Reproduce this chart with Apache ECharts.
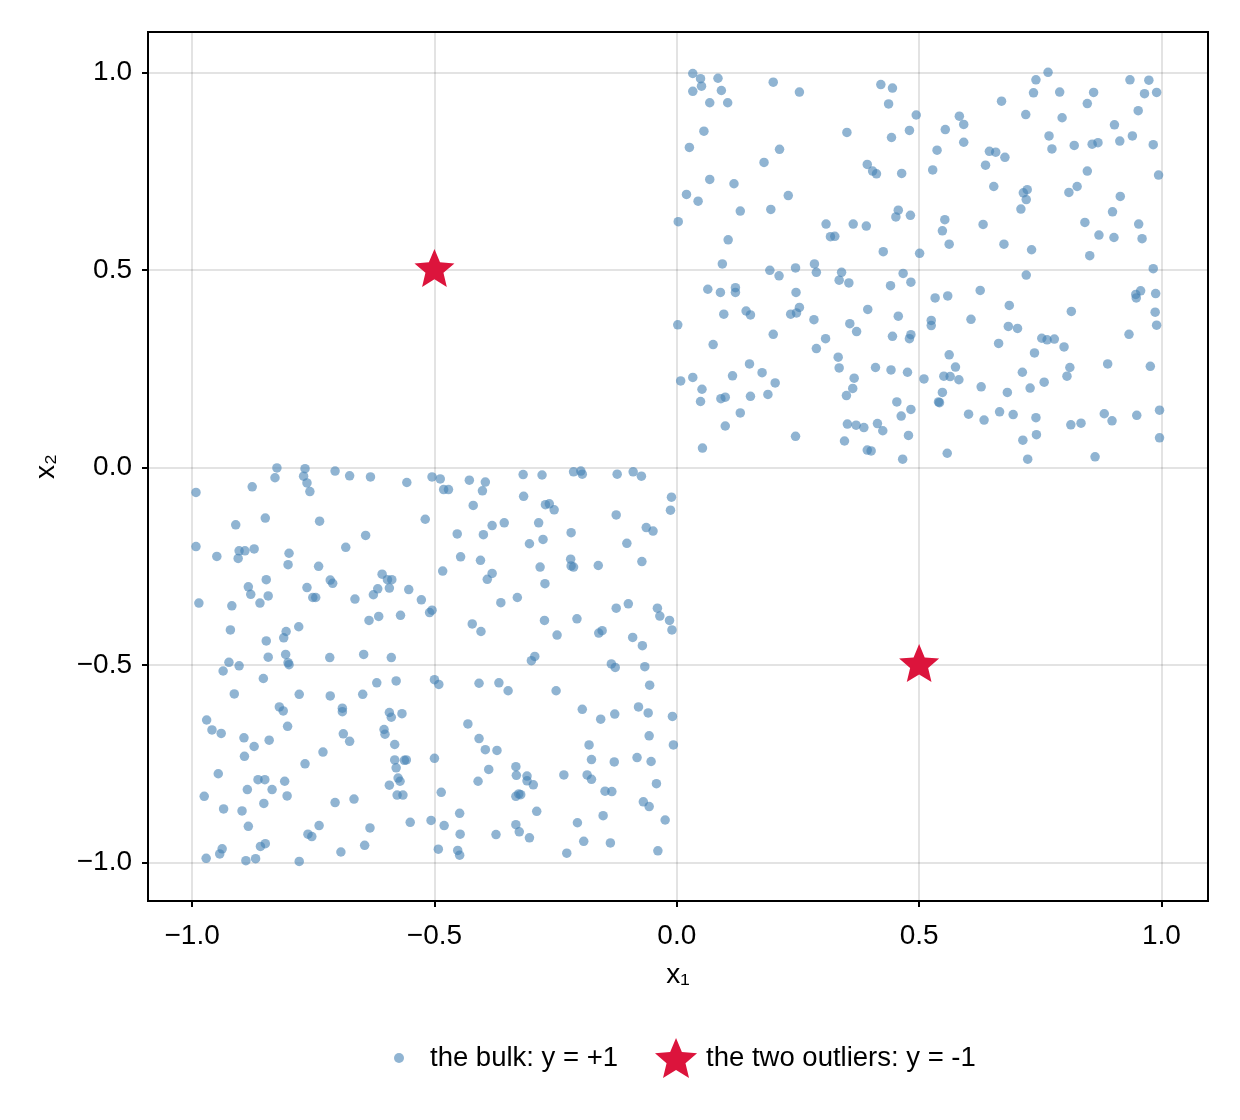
<!DOCTYPE html>
<html>
<head>
<meta charset="utf-8">
<title>bulk and outliers</title>
<script src="https://cdn.jsdelivr.net/npm/echarts@6/dist/echarts.min.js"></script>
<style>
  html, body { margin: 0; padding: 0; background: #fff; }
  #chart { width: 1240px; height: 1120px; }
</style>
</head>
<body>
<div id="chart"></div>
<script>
// points: [x1, x2]
var bulkTopRight = [
  [0.033,0.997],[0.049,0.984],[0.085,0.985],[0.051,0.965],[0.033,0.952],[0.092,0.954],[0.199,0.975],[0.253,0.950],[0.068,0.923],[0.105,0.923],
  [0.421,0.969],[0.445,0.960],[0.437,0.920],[0.494,0.892],[0.056,0.851],[0.351,0.848],[0.480,0.853],[0.443,0.835],[0.026,0.810],[0.212,0.805],
  [0.180,0.772],[0.393,0.767],[0.404,0.750],[0.412,0.743],[0.464,0.744],[0.068,0.729],[0.118,0.718],[0.020,0.691],[0.044,0.674],[0.230,0.688],
  [0.131,0.649],[0.194,0.653],[0.457,0.651],[0.452,0.634],[0.482,0.638],[0.003,0.622],[0.308,0.616],[0.364,0.616],[0.391,0.611],[0.317,0.584],
  [0.326,0.585],[0.106,0.576],[0.426,0.546],[0.501,0.542],[0.094,0.515],[0.284,0.515],[0.192,0.499],[0.245,0.505],[0.340,0.494],[0.467,0.491],
  [0.766,1.000],[0.741,0.981],[0.935,0.981],[0.974,0.980],[0.736,0.948],[0.790,0.950],[0.860,0.949],[0.965,0.946],[0.990,0.949],[0.670,0.927],
  [0.847,0.921],[0.952,0.903],[0.583,0.889],[0.720,0.893],[0.795,0.885],[0.592,0.868],[0.554,0.855],[0.903,0.867],[0.768,0.839],[0.940,0.839],
  [0.592,0.823],[0.914,0.826],[0.820,0.815],[0.857,0.818],[0.869,0.822],[0.983,0.817],[0.537,0.803],[0.645,0.800],[0.658,0.798],[0.677,0.785],
  [0.774,0.806],[0.637,0.765],[0.528,0.753],[0.847,0.750],[0.994,0.740],[0.654,0.711],[0.723,0.703],[0.715,0.695],[0.721,0.678],[0.710,0.654],
  [0.809,0.696],[0.826,0.711],[0.915,0.686],[0.899,0.647],[0.553,0.627],[0.548,0.599],[0.632,0.615],[0.842,0.620],[0.953,0.616],[0.871,0.588],
  [0.902,0.582],[0.960,0.579],[0.562,0.565],[0.675,0.565],[0.732,0.551],[0.852,0.536],[0.983,0.503],
  [0.211,0.485],[0.288,0.494],[0.335,0.474],[0.355,0.467],[0.441,0.460],[0.483,0.469],[0.064,0.451],[0.090,0.443],[0.121,0.455],[0.121,0.443],
  [0.246,0.443],[0.002,0.361],[0.097,0.388],[0.143,0.396],[0.152,0.386],[0.235,0.388],[0.253,0.405],[0.247,0.391],[0.283,0.374],[0.394,0.400],
  [0.457,0.383],[0.357,0.364],[0.371,0.344],[0.199,0.337],[0.307,0.326],[0.445,0.332],[0.483,0.336],[0.480,0.326],[0.075,0.311],[0.288,0.301],
  [0.333,0.279],[0.335,0.252],[0.150,0.262],[0.176,0.240],[0.115,0.232],[0.008,0.219],[0.033,0.228],[0.052,0.198],[0.049,0.167],[0.203,0.214],
  [0.366,0.226],[0.410,0.253],[0.442,0.247],[0.476,0.241],[0.363,0.200],[0.350,0.182],[0.091,0.174],[0.100,0.178],[0.152,0.180],[0.188,0.185],
  [0.131,0.138],[0.454,0.166],[0.483,0.147],[0.463,0.130],[0.100,0.105],[0.352,0.110],[0.370,0.107],[0.386,0.101],[0.414,0.111],[0.425,0.093],
  [0.478,0.081],[0.245,0.079],[0.053,0.049],[0.346,0.067],[0.393,0.044],[0.401,0.042],[0.466,0.021],
  [0.721,0.487],[0.533,0.429],[0.559,0.434],[0.626,0.448],[0.686,0.410],[0.814,0.395],[0.947,0.438],[0.957,0.447],[0.948,0.429],[0.988,0.440],
  [0.987,0.393],[0.990,0.360],[0.525,0.372],[0.525,0.359],[0.607,0.375],[0.684,0.357],[0.703,0.352],[0.753,0.327],[0.764,0.323],[0.779,0.325],
  [0.799,0.305],[0.664,0.314],[0.738,0.290],[0.933,0.337],[0.562,0.285],[0.575,0.254],[0.551,0.231],[0.564,0.230],[0.582,0.222],[0.510,0.224],
  [0.713,0.241],[0.811,0.253],[0.805,0.231],[0.889,0.262],[0.977,0.256],[0.548,0.190],[0.540,0.166],[0.542,0.164],[0.628,0.204],[0.682,0.190],
  [0.729,0.201],[0.758,0.216],[0.602,0.135],[0.634,0.120],[0.666,0.141],[0.694,0.134],[0.741,0.126],[0.882,0.136],[0.898,0.118],[0.949,0.132],
  [0.996,0.145],[0.813,0.108],[0.834,0.112],[0.742,0.083],[0.714,0.069],[0.996,0.075],[0.558,0.036],[0.724,0.021],[0.863,0.027]
];

var bulkBottomLeft = [
  [-0.825,-0.001],[-0.767,-0.003],[-0.705,-0.009],[-0.829,-0.026],[-0.770,-0.022],[-0.763,-0.039],[-0.757,-0.061],[-0.675,-0.021],[-0.632,-0.024],[-0.557,-0.038],
  [-0.505,-0.024],[-0.488,-0.029],[-0.481,-0.056],[-0.471,-0.056],[-0.992,-0.063],[-0.876,-0.049],[-0.849,-0.128],[-0.910,-0.145],[-0.737,-0.136],[-0.519,-0.131],
  [-0.642,-0.172],[-0.992,-0.200],[-0.949,-0.225],[-0.903,-0.211],[-0.891,-0.211],[-0.872,-0.206],[-0.905,-0.230],[-0.800,-0.217],[-0.802,-0.246],[-0.683,-0.202],
  [-0.739,-0.250],[-0.608,-0.270],[-0.597,-0.284],[-0.588,-0.284],[-0.593,-0.305],[-0.617,-0.307],[-0.626,-0.322],[-0.553,-0.309],[-0.527,-0.335],[-0.847,-0.284],
  [-0.884,-0.302],[-0.879,-0.321],[-0.843,-0.325],[-0.860,-0.343],[-0.715,-0.285],[-0.710,-0.293],[-0.763,-0.304],[-0.751,-0.329],[-0.745,-0.329],[-0.986,-0.343],
  [-0.918,-0.350],[-0.664,-0.333],[-0.635,-0.387],[-0.615,-0.377],[-0.570,-0.374],[-0.510,-0.367],[-0.505,-0.361],[-0.921,-0.411],[-0.806,-0.415],[-0.811,-0.431],
  [-0.780,-0.403],[-0.847,-0.439],[-0.924,-0.493],[-0.903,-0.502],[-0.843,-0.480],[-0.807,-0.473],[-0.802,-0.494],[-0.800,-0.499],[-0.716,-0.481],[-0.646,-0.473],
  [-0.589,-0.481],[-0.936,-0.515],
  [-0.428,-0.032],[-0.395,-0.037],[-0.401,-0.059],[-0.317,-0.018],[-0.278,-0.019],[-0.213,-0.011],[-0.198,-0.009],[-0.195,-0.017],[-0.123,-0.017],[-0.090,-0.011],
  [-0.073,-0.022],[-0.011,-0.075],[-0.013,-0.108],[-0.420,-0.096],[-0.316,-0.073],[-0.271,-0.094],[-0.263,-0.092],[-0.253,-0.107],[-0.125,-0.120],[-0.453,-0.168],
  [-0.399,-0.170],[-0.381,-0.147],[-0.356,-0.140],[-0.285,-0.140],[-0.276,-0.182],[-0.304,-0.193],[-0.218,-0.165],[-0.103,-0.192],[-0.063,-0.152],[-0.049,-0.161],
  [-0.446,-0.226],[-0.405,-0.235],[-0.483,-0.262],[-0.381,-0.268],[-0.391,-0.283],[-0.282,-0.252],[-0.272,-0.294],[-0.219,-0.232],[-0.218,-0.249],[-0.213,-0.252],
  [-0.162,-0.248],[-0.072,-0.238],[-0.329,-0.329],[-0.363,-0.342],[-0.125,-0.356],[-0.100,-0.345],[-0.040,-0.356],[-0.035,-0.376],[-0.015,-0.387],[-0.010,-0.411],
  [-0.422,-0.396],[-0.404,-0.415],[-0.273,-0.387],[-0.206,-0.383],[-0.247,-0.424],[-0.161,-0.419],[-0.154,-0.413],[-0.091,-0.430],[-0.071,-0.451],[-0.300,-0.489],
  [-0.293,-0.478],[-0.135,-0.497],[-0.127,-0.506],[-0.066,-0.504],
  [-0.853,-0.534],[-0.913,-0.573],[-0.779,-0.574],[-0.715,-0.578],[-0.648,-0.574],[-0.619,-0.545],[-0.579,-0.540],[-0.500,-0.537],[-0.491,-0.549],[-0.820,-0.606],
  [-0.812,-0.616],[-0.690,-0.609],[-0.690,-0.618],[-0.593,-0.620],[-0.589,-0.632],[-0.567,-0.623],[-0.970,-0.639],[-0.959,-0.664],[-0.940,-0.673],[-0.803,-0.655],
  [-0.893,-0.684],[-0.841,-0.690],[-0.872,-0.706],[-0.688,-0.674],[-0.675,-0.693],[-0.604,-0.663],[-0.602,-0.675],[-0.582,-0.701],[-0.892,-0.731],[-0.730,-0.720],
  [-0.767,-0.750],[-0.582,-0.740],[-0.579,-0.760],[-0.562,-0.741],[-0.558,-0.740],[-0.500,-0.736],[-0.946,-0.775],[-0.864,-0.790],[-0.850,-0.790],[-0.809,-0.794],
  [-0.886,-0.815],[-0.835,-0.815],[-0.975,-0.832],[-0.852,-0.850],[-0.804,-0.831],[-0.575,-0.786],[-0.571,-0.794],[-0.593,-0.804],[-0.577,-0.829],[-0.565,-0.829],
  [-0.705,-0.848],[-0.666,-0.839],[-0.486,-0.822],[-0.935,-0.864],[-0.897,-0.869],[-0.884,-0.908],[-0.738,-0.906],[-0.761,-0.928],[-0.753,-0.934],[-0.633,-0.912],
  [-0.550,-0.898],[-0.507,-0.893],[-0.480,-0.906],[-0.859,-0.959],[-0.849,-0.952],[-0.938,-0.965],[-0.943,-0.978],[-0.971,-0.989],[-0.889,-0.995],[-0.869,-0.990],
  [-0.779,-0.997],[-0.693,-0.973],[-0.644,-0.956],[-0.492,-0.966],
  [-0.408,-0.546],[-0.367,-0.545],[-0.348,-0.565],[-0.249,-0.565],[-0.195,-0.612],[-0.157,-0.637],[-0.128,-0.624],[-0.079,-0.606],[-0.059,-0.621],[-0.056,-0.551],
  [-0.009,-0.630],[-0.431,-0.649],[-0.408,-0.686],[-0.395,-0.714],[-0.371,-0.716],[-0.181,-0.702],[-0.176,-0.739],[-0.129,-0.745],[-0.082,-0.734],[-0.053,-0.744],
  [-0.057,-0.679],[-0.007,-0.702],[-0.388,-0.764],[-0.410,-0.794],[-0.332,-0.757],[-0.331,-0.779],[-0.309,-0.781],[-0.309,-0.793],[-0.296,-0.803],[-0.233,-0.778],
  [-0.185,-0.778],[-0.176,-0.789],[-0.042,-0.800],[-0.332,-0.832],[-0.326,-0.826],[-0.322,-0.828],[-0.148,-0.819],[-0.134,-0.820],[-0.069,-0.846],[-0.057,-0.858],
  [-0.289,-0.870],[-0.448,-0.875],[-0.447,-0.928],[-0.373,-0.929],[-0.332,-0.904],[-0.325,-0.922],[-0.304,-0.937],[-0.205,-0.899],[-0.152,-0.881],[-0.024,-0.892],
  [-0.192,-0.946],[-0.137,-0.950],[-0.452,-0.969],[-0.448,-0.981],[-0.227,-0.976],[-0.039,-0.970]
];

var outliers = [[-0.5, 0.5], [0.5, -0.5]];

var tickValues = [-1, -0.5, 0, 0.5, 1];

var bulkName = 'the bulk: y = +1';
var outlierName = 'the two outliers: y = -1';

var FONT = '"Liberation Sans", Arial, Helvetica, sans-serif';
var STAR = 'path://M50 0 L63.23 31.8 L97.55 34.55 L71.4 56.95 L79.39 90.45 L50 72.5 L20.61 90.45 L28.6 56.95 L2.45 34.55 L36.77 31.8 Z';

function fmt(v) {
  var s = Math.abs(v).toFixed(1);
  return v < 0 ? '\u2212' + s : s;
}

function axisCommon() {
  return {
    type: 'value',
    nameLocation: 'middle',
    nameTextStyle: { color: '#000', fontSize: 28, fontFamily: FONT },
    axisLine: { show: false, onZero: false },
    axisTick: {
      show: true, inside: false, length: 6, customValues: tickValues,
      lineStyle: { color: '#000', width: 2 }
    },
    axisLabel: {
      customValues: tickValues, formatter: fmt,
      color: '#000', fontSize: 28, fontFamily: FONT
    },
    splitLine: { show: true, lineStyle: { color: 'rgba(0,0,0,0.11)', width: 2 } }
  };
}

var xAxis = axisCommon();
xAxis.min = -1.091; xAxis.max = 1.096;
xAxis.name = 'x\u2081'; xAxis.nameGap = 60;
xAxis.axisLabel.margin = 21;

var yAxis = axisCommon();
yAxis.min = -1.097; yAxis.max = 1.102;
yAxis.name = 'x\u2082'; yAxis.nameGap = 88;
yAxis.axisLabel.margin = 16;

var chart = echarts.init(document.getElementById('chart'), null, { renderer: 'canvas' });
chart.setOption({
  backgroundColor: '#fff',
  animation: false,
  textStyle: { fontFamily: FONT },
  grid: {
    left: 148, right: 32, top: 32, bottom: 219,
    show: true, borderColor: '#000', borderWidth: 2, backgroundColor: 'transparent'
  },
  xAxis: xAxis,
  yAxis: yAxis,
  legend: [
    {
      data: [{ name: bulkName, icon: 'circle' }],
      left: 394, top: 1043, padding: 0,
      itemWidth: 52, itemHeight: 10,
      textStyle: { color: '#000', fontSize: 27.5, fontFamily: FONT, lineHeight: 30 }
    },
    {
      data: [{ name: outlierName, icon: STAR }],
      left: 655, top: 1038, padding: 0,
      itemWidth: 50, itemHeight: 40,
      textStyle: { color: '#000', fontSize: 27.5, fontFamily: FONT, lineHeight: 40 }
    }
  ],
  series: [
    {
      name: bulkName,
      type: 'scatter',
      data: bulkTopRight.concat(bulkBottomLeft),
      symbol: 'circle',
      symbolSize: 9.5,
      itemStyle: { color: 'rgba(70,130,180,0.6)', opacity: 1 },
      z: 2
    },
    {
      name: outlierName,
      type: 'scatter',
      data: outliers,
      symbol: STAR,
      symbolSize: 40,
      symbolKeepAspect: true,
      symbolOffset: [0, -2],
      itemStyle: { color: '#DC143C', opacity: 1 },
      z: 3
    }
  ]
});
</script>
</body>
</html>
